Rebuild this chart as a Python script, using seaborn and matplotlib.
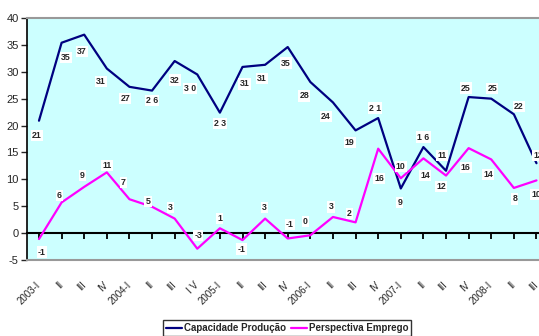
import pandas as pd
import seaborn as sns
import matplotlib.pyplot as plt

quarters = ['2003-I', 'II', 'III', 'IV', '2004-I', 'II', 'III', 'I V',
            '2005-I', 'II', 'III', 'IV', '2006-I', 'II', 'III', 'IV',
            '2007-I', 'II', 'III', 'IV', '2008-I', 'II', 'III']
capacidade = [20.9, 35.4, 36.9, 30.6, 27.2, 26.5, 32.0, 29.5,
              22.4, 30.9, 31.3, 34.6, 28.1, 24.3, 19.1, 21.4,
              8.3, 16.0, 11.6, 25.3, 25.0, 22.1, 13.0]
emprego = [-1.1, 5.7, 8.6, 11.3, 6.3, 4.9, 2.7, -2.9,
           0.9, -1.3, 2.7, -1.0, -0.4, 3.0, 2.0, 15.7,
           10.2, 13.9, 10.7, 15.8, 13.7, 8.4, 9.8]
cap_labels = ['21', '35', '37', '31', '27', '2 6', '32', '3 0',
              '2 3', '31', '31', '35', '28', '24', '19', '2 1',
              '9', '1 6', '11', '25', '25', '22', '13']
emp_labels = ['-1', '6', '9', '11', '7', '5', '3', '-3',
              '1', '-1', '3', '-1', '0', '3', '2', '16',
              '10', '14', '12', '16', '14', '8', '10']
yticks = list(range(-5, 45, 5))

# label offsets in pixels (dx, dy)
cap_off = [(-2, -15), (4, -15), (-2, -17), (-6, -13), (-4, -12), (0, -10), (0, -19), (-7, -14),
           (0, -11), (2, -17), (-3, -14), (-2, -16), (-6, -14), (-7, -14), (-6, -12), (-3, 10),
           (-1, -14), (0, 10), (-4, 15), (-3, 9), (1, 10), (5, 8), (2, 8)]
emp_off = [(3, -13), (-2, 7), (-2, 11), (0, 7), (-6, 17), (-4, 5), (-4, 11), (1, 13),
           (0, 10), (-1, -9), (-1, 11), (2, 14), (-5, 14), (-2, 10), (-6, 9), (1, -30),
           (0, 12), (2, -17), (-5, -11), (-3, -19), (-3, -15), (1, -11), (0, -14)]

sns.set_style('white')
plt.rcParams['font.family'] = ['Liberation Sans', 'DejaVu Sans']
plt.rcParams['axes.unicode_minus'] = False

df = pd.DataFrame({'idx': list(range(len(quarters))) * 2,
                   'valor': capacidade + emprego,
                   'serie': ['Capacidade Produção'] * len(quarters) + ['Perspectiva Emprego'] * len(quarters)})

fig = plt.figure(figsize=(5.39, 3.36), dpi=100)
ax = fig.add_axes([27 / 539, 1 - 260 / 336, 1 - 27 / 539 + 0.01, (260 - 18) / 336])
ax.set_facecolor('#CCFFFF')

sns.lineplot(data=df, x='idx', y='valor', hue='serie',
             palette=['#000080', '#FF00FF'], linewidth=1.6, ax=ax, legend=False)

for i in range(len(quarters)):
    ax.annotate(cap_labels[i], (i, capacidade[i]), xytext=cap_off[i], textcoords='offset pixels',
                ha='center', va='center', fontsize=6.3, fontweight='bold',
                bbox=dict(facecolor='white', edgecolor='none', pad=0.8))
    ax.annotate(emp_labels[i], (i, emprego[i]), xytext=emp_off[i], textcoords='offset pixels',
                ha='center', va='center', fontsize=6.3, fontweight='bold',
                bbox=dict(facecolor='white', edgecolor='none', pad=0.8))

ax.set_xlim(-0.53, 22.35)
ax.set_ylim(-5, 40)
ax.set_yticks(yticks)
ax.tick_params(axis='y', direction='out', length=4, width=1, labelsize=8, pad=2, left=True)
ax.set_xticks(range(len(quarters)))
ax.set_xticklabels(quarters, rotation=45, ha='right', va='center', rotation_mode='anchor', fontsize=7)
ax.tick_params(axis='x', length=0, pad=17)
ax.set_xlabel('')
ax.set_ylabel('')
for s in ['top', 'bottom', 'right']:
    ax.spines[s].set_color('#999999')
    ax.spines[s].set_linewidth(1.5)
ax.spines['left'].set_color('black')
ax.spines['left'].set_linewidth(1.2)

# zero line with tick marks
sec = ax.secondary_xaxis(5 / 45)
sec.set_xticks(range(len(quarters)))
sec.set_xticklabels([])
sec.tick_params(direction='out', length=4, width=1.3, color='black')
sec.spines['bottom'].set_color('black')
sec.spines['bottom'].set_linewidth(1.5)

handles = [plt.Line2D([], [], color='#000080', lw=1.6), plt.Line2D([], [], color='#FF00FF', lw=1.6)]
leg = fig.legend(handles, ['Capacidade Produção', 'Perspectiva Emprego'], loc='lower center',
                 bbox_to_anchor=(0.533, -0.015), ncol=2, frameon=True, fancybox=False,
                 prop={'weight': 'bold', 'size': 7}, handlelength=1.6, handletextpad=0.2,
                 columnspacing=0.6, borderpad=0.3)
leg.get_frame().set_edgecolor('black')
leg.get_frame().set_linewidth(1)

fig.savefig('out.png', dpi=100)
